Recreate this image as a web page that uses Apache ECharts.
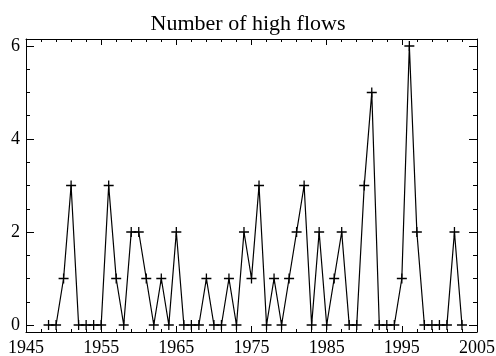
<!DOCTYPE html>
<html>
<head>
<meta charset="utf-8">
<script src="https://cdn.jsdelivr.net/npm/echarts@6/dist/echarts.min.js"></script>
<style>
  html, body { margin: 0; padding: 0; background: #fff; }
  #chart { width: 496px; height: 356px; }
</style>
</head>
<body>
<div id="chart"></div>
<script>
// Annual count of high-flow events
const years = [
  1948, 1949, 1950, 1951, 1952, 1953, 1954, 1955, 1956, 1957,
  1958, 1959, 1960, 1961, 1962, 1963, 1964, 1965, 1966, 1967,
  1968, 1969, 1970, 1971, 1972, 1973, 1974, 1975, 1976, 1977,
  1978, 1979, 1980, 1981, 1982, 1983, 1984, 1985, 1986, 1987,
  1988, 1989, 1990, 1991, 1992, 1993, 1994, 1995, 1996, 1997,
  1998, 1999, 2000, 2001, 2002, 2003
];
const highFlows = [
  0, 0, 1, 3, 0, 0, 0, 0, 3, 1,
  0, 2, 2, 1, 0, 1, 0, 2, 0, 0,
  0, 1, 0, 0, 1, 0, 2, 1, 3, 0,
  1, 0, 1, 2, 3, 0, 2, 0, 1, 2,
  0, 0, 3, 5, 0, 0, 0, 1, 6, 2,
  0, 0, 0, 0, 2, 0
];
const yMajorTicks = [0, 2, 4, 6];
const yMinorTicks = [0, 0.5, 1, 1.5, 2, 2.5, 3, 3.5, 4, 4.5, 5, 5.5, 6];

const FONT = 'Liberation Serif';
const X_MIN = 1945, X_MAX = 2005;
const Y_MIN = -0.15, Y_MAX = 6.15;

const lineStyle = { color: '#000', width: 1 };

function xAxisDef(position, showLabels) {
  return {
    type: 'value', position: position,
    min: X_MIN, max: X_MAX, interval: 10,
    axisLine: { show: true, onZero: false, lineStyle: lineStyle },
    axisTick: { show: true, inside: true, length: 6, lineStyle: lineStyle },
    minorTick: { show: true, splitNumber: 5, length: 3, lineStyle: lineStyle },
    splitLine: { show: false },
    minorSplitLine: { show: false },
    axisLabel: {
      show: showLabels, color: '#000', fontFamily: FONT, fontSize: 18, margin: 7,
      formatter: v => String(v)
    }
  };
}

function yAxisDef(position, ticks, len, showLabels, showLine) {
  return {
    type: 'value', position: position,
    min: Y_MIN, max: Y_MAX,
    axisLine: { show: showLine, onZero: false, lineStyle: lineStyle },
    axisTick: { show: true, inside: true, length: len, customValues: ticks, lineStyle: lineStyle },
    splitLine: { show: false },
    axisLabel: {
      show: showLabels, color: '#000', fontFamily: FONT, fontSize: 18, margin: 6,
      customValues: ticks, formatter: v => String(v)
    }
  };
}

const chart = echarts.init(document.getElementById('chart'), null, { renderer: 'canvas' });
chart.setOption({
  animation: false,
  backgroundColor: '#fff',
  title: {
    text: 'Number of high flows',
    left: 'center', top: 8,
    textStyle: { fontFamily: FONT, fontSize: 22, fontWeight: 'normal', color: '#000' }
  },
  grid: {
    left: 26, right: 19, top: 39, bottom: 24,
    containLabel: false, outerBoundsMode: 'none'
  },
  xAxis: [xAxisDef('bottom', true), xAxisDef('top', false)],
  yAxis: [
    yAxisDef('left', yMajorTicks, 8, true, true),
    yAxisDef('right', yMajorTicks, 8, false, true),
    yAxisDef('left', yMinorTicks, 4, false, false),
    yAxisDef('right', yMinorTicks, 4, false, false)
  ],
  series: [{
    type: 'line',
    xAxisIndex: 0, yAxisIndex: 0,
    data: years.map((y, i) => [y, highFlows[i]]),
    lineStyle: { color: '#000', width: 1.2 },
    symbol: 'path://M5,0L5,10M0,5L10,5',
    symbolSize: [10, 10],
    itemStyle: { color: 'none', borderColor: '#000', borderWidth: 1.3 },
    showSymbol: true,
    z: 3
  }]
});
</script>
</body>
</html>
